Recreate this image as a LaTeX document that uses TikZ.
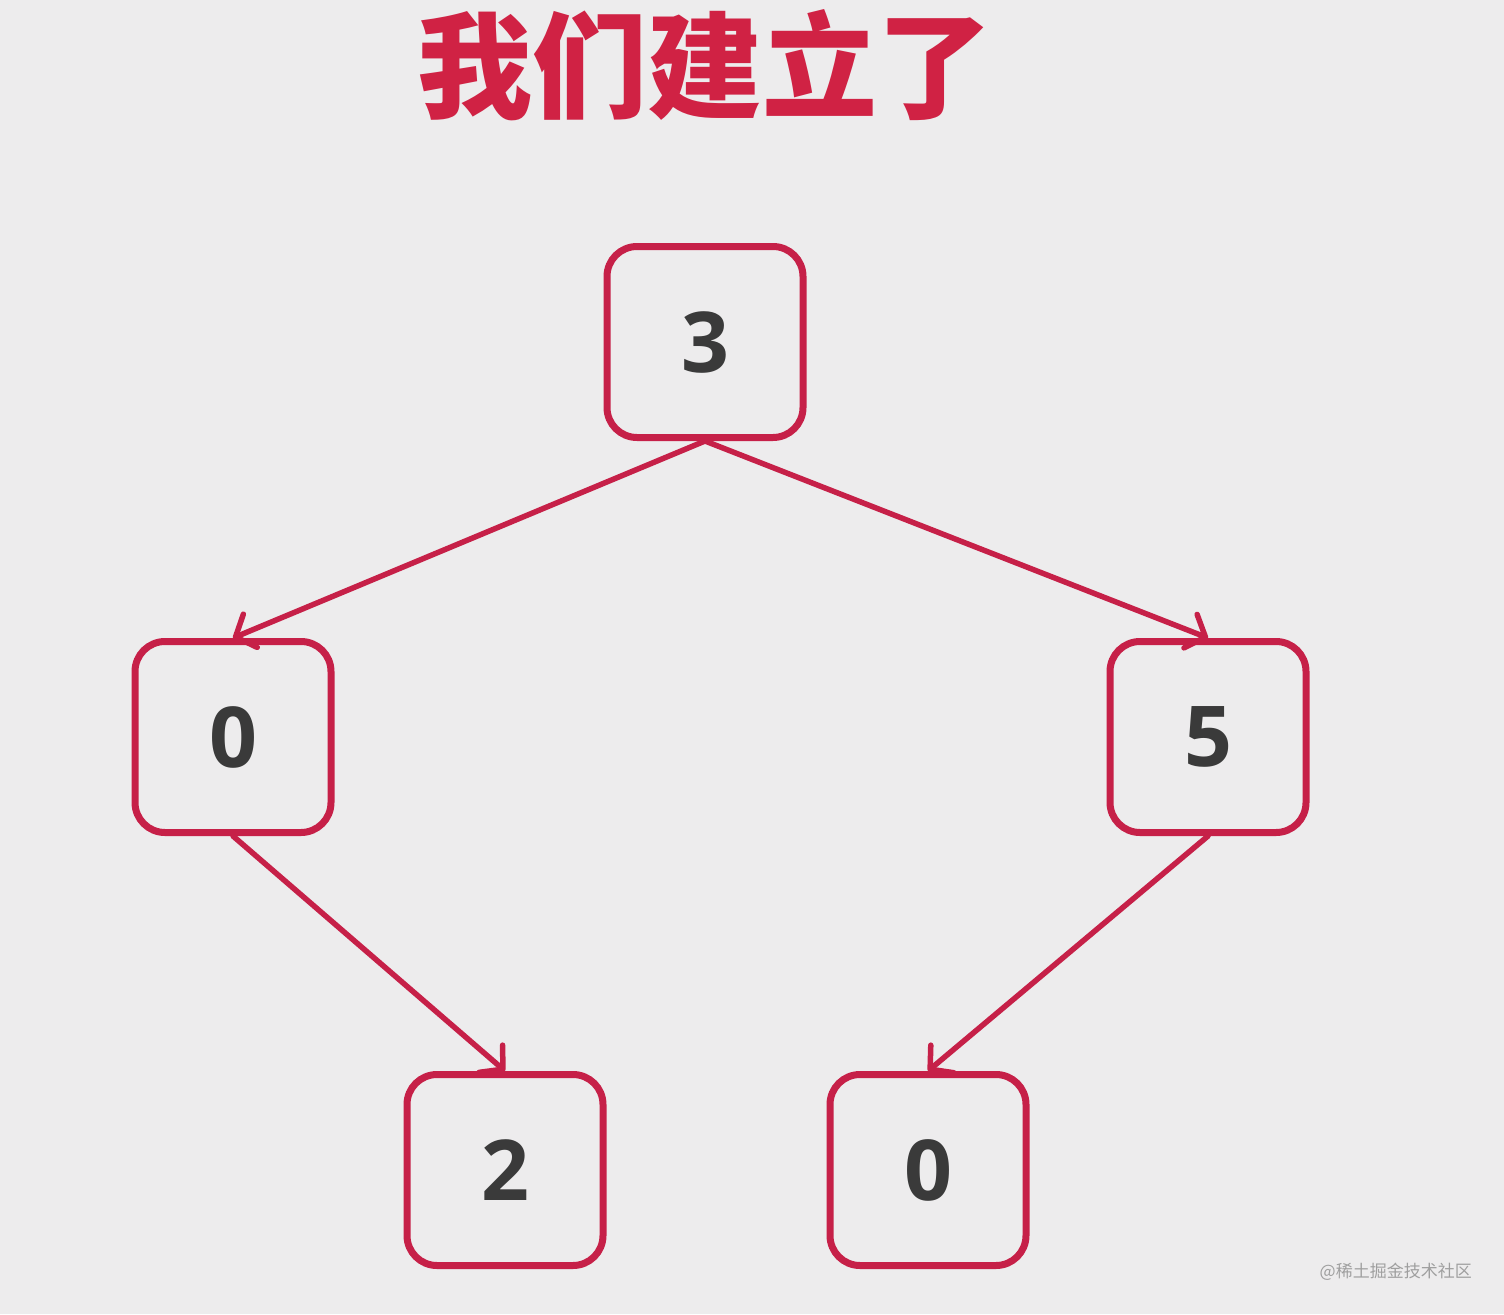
\documentclass[tikz,border=0pt]{standalone}
\usepackage{fontspec}
\setmainfont{Open Sans}
\newfontfamily\cjk{Noto Sans CJK SC}
\usetikzlibrary{arrows.meta, positioning}

\definecolor{fondo}{RGB}{237,236,237}
\definecolor{rojo}{RGB}{198,32,72}
\definecolor{titulo}{RGB}{208,34,68}
\definecolor{cifra}{RGB}{58,58,58}

\begin{document}
\begin{tikzpicture}[
    x=1pt, y=-1pt,
    caja/.style={
        draw=rojo,
        line width=7pt,
        rounded corners=30pt,
        minimum width=196pt,
        minimum height=191pt,
        text=cifra,
        font=\fontsize{84}{84}\selectfont\bfseries,
        inner sep=0pt
    },
    arista/.style={
        draw=rojo,
        line width=5.5pt,
        line cap=round,
        -{Straight Barb[length=16pt,width=36pt,line width'=5.5pt,round]}
    }
]

% Fondo y marco de la imagen
\fill[fondo] (0,0) rectangle (1504,1314);
\useasboundingbox (0,0) rectangle (1504,1314);

% Nodos del árbol
\node (raiz) [caja] at (705,342) {3};
\node (izq) [caja] at (233,737) {0};
\node (der) [caja] at (1208,737) {5};
\node (izqder) [caja] at (505,1170) {2};
\node (derizq) [caja] at (928,1170) {0};

% Aristas
\draw[arista] (raiz.south) -- (izq.north);
\draw[arista] (raiz.south) -- (der.north);
\draw[arista] (izq.south) -- (izqder.north);
\draw[arista] (der.south) -- (derizq.north);

% Título
\node (titular) [above=122pt of raiz, inner sep=0pt, text=titulo,
                 font=\cjk\fontsize{115}{115}\selectfont\bfseries]
    {我们建立了};

% Marca de agua
\node (marca) [anchor=east, inner sep=0pt, text=gray!75,
               font=\cjk\fontsize{17}{17}\selectfont] at (1472,1272)
    {@稀土掘金技术社区};

\end{tikzpicture}
\end{document}
